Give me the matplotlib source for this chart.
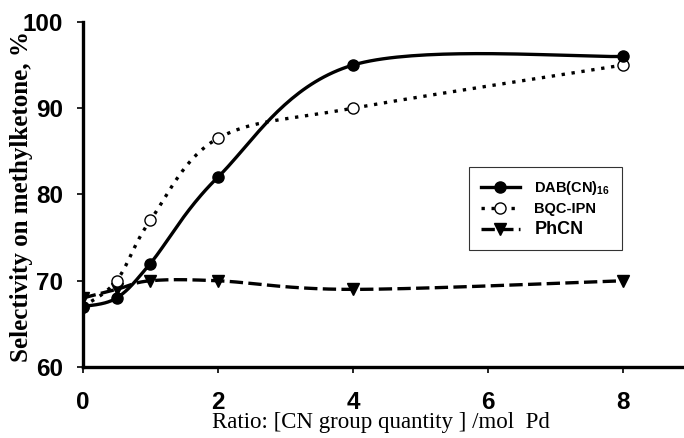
import numpy as np
import matplotlib
matplotlib.use("Agg")
import matplotlib.pyplot as plt
from matplotlib.lines import Line2D

# data
ratio = [0, 0.5, 1, 2, 4, 8]
dab = [67, 68, 72, 82, 95, 96]
bqc = [67, 70, 77, 86.5, 90, 95]
phcn = [68, 69, 70, 70, 69, 70]
labels = ["DAB(CN)$_{16}$", "BQC-IPN", "PhCN"]
yticks = [60, 70, 80, 90, 100]
xticks = [0, 2, 4, 6, 8]

plt.rcParams["mathtext.fontset"] = "custom"
plt.rcParams["mathtext.rm"] = "Liberation Sans:bold"
plt.rcParams["mathtext.it"] = "Liberation Sans:bold"
plt.rcParams["mathtext.bf"] = "Liberation Sans:bold"


# spreadsheet-style smoothed line (cubic bezier through the points)
def smooth(x, y, n=40):
    p = np.column_stack([x, y]).astype(float)
    p = np.vstack([p[0], p, p[-1]])
    t = np.linspace(0, 1, n)[:, None]
    out = []
    for i in range(1, len(p) - 2):
        a, b = p[i], p[i + 1]
        c1 = a + (p[i + 1] - p[i - 1]) / 6
        c2 = b - (p[i + 2] - p[i]) / 6
        seg = (1 - t) ** 3 * a + 3 * (1 - t) ** 2 * t * c1 + 3 * (1 - t) * t ** 2 * c2 + t ** 3 * b
        out.append(seg)
    out = np.vstack(out)
    return out[:, 0], out[:, 1]


fig = plt.figure(figsize=(6.84, 4.38), dpi=100)
ax = fig.add_axes([0.121, 0.162, 0.879, 0.788])

lw = 2.4
sx, sy = smooth(ratio, phcn)
ax.plot(sx, sy, color="black", lw=lw, linestyle=(0, (4, 1.6)))
ax.plot(ratio, phcn, "v", color="black", ms=8, mfc="black", mec="black")

sx, sy = smooth(ratio, bqc)
ax.plot(sx, sy, color="black", lw=lw, linestyle=(0, (1, 2)))
ax.plot(ratio, bqc, "o", ms=8, mfc="white", mec="black", mew=1)

sx, sy = smooth(ratio, dab)
ax.plot(sx, sy, color="black", lw=lw, linestyle="-")
ax.plot(ratio, dab, "o", ms=8, mfc="black", mec="black")

ax.set_xlim(0, 8.9)
ax.set_ylim(60, 100)
ax.set_xticks(xticks)
ax.set_yticks(yticks)
for s in ["top", "right"]:
    ax.spines[s].set_visible(False)
for s in ["left", "bottom"]:
    ax.spines[s].set_linewidth(2.4)
ax.tick_params(direction="out", length=4, width=1.2)
ax.tick_params(axis="x", pad=13)
ax.tick_params(axis="y", pad=10)
for tl in ax.get_xticklabels() + ax.get_yticklabels():
    tl.set_fontfamily("Liberation Sans")
    tl.set_fontweight("bold")
    tl.set_fontsize(17.5)

fig.text(0.031, 0.552, "Selectivity on methylketone, %", family="Liberation Serif",
         fontweight="bold", fontsize=18, rotation=90, ha="center", va="center")
fig.text(0.557, 0.022, "Ratio: [CN group quantity ] /mol  Pd",
         family="Liberation Serif", fontsize=16.5, ha="center", va="baseline")

handles = [
    Line2D([], [], color="black", lw=lw, marker="o", ms=8, mfc="black"),
    Line2D([], [], color="black", lw=lw, linestyle=(0, (1, 2)), marker="o", ms=8, mfc="white", mew=1),
    Line2D([], [], color="black", lw=lw, linestyle=(0, (4, 1.6)), marker="v", ms=8, mfc="black"),
]
leg = ax.legend(handles, labels, loc="upper left", bbox_to_anchor=(0.63, 0.6),
                prop={"family": "Liberation Sans", "weight": "bold", "size": 10.5},
                frameon=True, fancybox=False, edgecolor="black", handlelength=2.7,
                borderpad=0.8, labelspacing=0.35, handletextpad=1.0)
leg.get_frame().set_linewidth(0.8)
leg.get_texts()[2].set_fontsize(13)

fig.savefig("out.png", dpi=100)
